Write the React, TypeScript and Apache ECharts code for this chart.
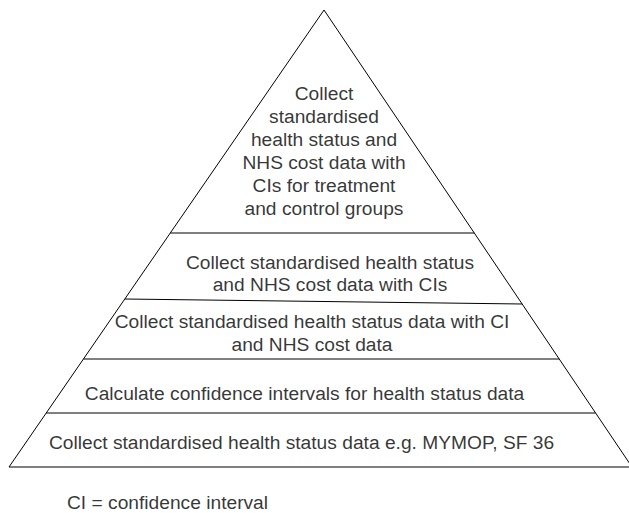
import React, { useEffect, useRef } from "react";
import * as echarts from "echarts";

// Pyramid geometry (in diagram units, y grows downward)
const apex: [number, number] = [324, 10];
const baseY = 467;
const baseLeftX = 9;
const baseRightX = 632;
const dividerLeftY = [233, 299, 359, 413];
const dividerRightY = [233, 304, 359, 413];

// Texts
const blockLabels = [
  "Collect\nstandardised\nhealth status and\nNHS cost data with\nCIs for treatment\nand control groups",
  "Collect standardised health status\nand NHS cost data with CIs",
  "Collect standardised health status data with CI\nand NHS cost data",
  "Calculate confidence intervals for health status data",
  "Collect standardised health status data e.g. MYMOP, SF 36",
];
const labelX = [324, 330, 312, 304.5, 301.5];
const labelY = [150.5, 273, 332.5, 393, 442];
const labelLineHeight = [23, 22, 23, 22, 22];
const footnote = "CI = confidence interval";
const footnotePos: [number, number] = [67, 502];

const FONT = "Liberation Sans, Arial, Helvetica, sans-serif";
const INK = "#000";
const FS = 19.2;

function leftEdgeX(y: number) {
  return baseLeftX + ((baseY - y) * (apex[0] - baseLeftX)) / (baseY - apex[1]);
}
function rightEdgeX(y: number) {
  return baseRightX - ((baseY - y) * (baseRightX - apex[0])) / (baseY - apex[1]);
}

export default function App() {
  const ref = useRef<HTMLDivElement>(null);
  useEffect(() => {
    if (!ref.current) return;
    const chart = echarts.init(ref.current, undefined, { renderer: "svg" });
    const lineStyle = { color: "#000", width: 1 };
    const triangle = {
      type: "line",
      data: [
        [baseLeftX, baseY],
        [apex[0], apex[1]],
        [baseRightX, baseY],
        [baseLeftX, baseY],
      ],
      symbol: "none",
      clip: false,
      lineStyle,
      silent: true,
    };
    const dividers = dividerLeftY.map((yl, i) => {
      const yr = dividerRightY[i];
      return {
        type: "line",
        data: [
          [leftEdgeX(yl), yl],
          [rightEdgeX(yr), yr],
        ],
        symbol: "none",
        lineStyle,
        silent: true,
      };
    });
    const labels = {
      type: "scatter",
      symbolSize: 0,
      itemStyle: { color: "transparent" },
      silent: true,
      data: blockLabels.map((t, i) => ({
        value: [labelX[i], labelY[i], t],
        label: {
          show: true,
          position: "inside",
          formatter: t,
          fontSize: FS,
          lineHeight: labelLineHeight[i],
          color: INK,
          fontFamily: FONT,
          align: "center",
          verticalAlign: "middle",
        },
      })),
    };
    const foot = {
      type: "scatter",
      symbolSize: 0,
      itemStyle: { color: "transparent" },
      silent: true,
      data: [
        {
          value: [footnotePos[0], footnotePos[1]],
          label: {
            show: true,
            position: "right",
            distance: 0,
            formatter: footnote,
            fontSize: FS,
            color: INK,
            fontFamily: FONT,
          },
        },
      ],
    };
    chart.setOption({
      animation: false,
      backgroundColor: "#fff",
      grid: { left: 0, right: 0, top: 0, bottom: 0 },
      xAxis: { type: "value", min: 0, max: 629, show: false },
      yAxis: { type: "value", min: 0, max: 513, inverse: true, show: false },
      series: [triangle, ...dividers, labels, foot],
    });
    return () => chart.dispose();
  }, []);
  return (
    <div
      ref={ref}
      style={{ position: "fixed", left: 0, top: 0, width: 629, height: 513, background: "#fff" }}
    />
  );
}
